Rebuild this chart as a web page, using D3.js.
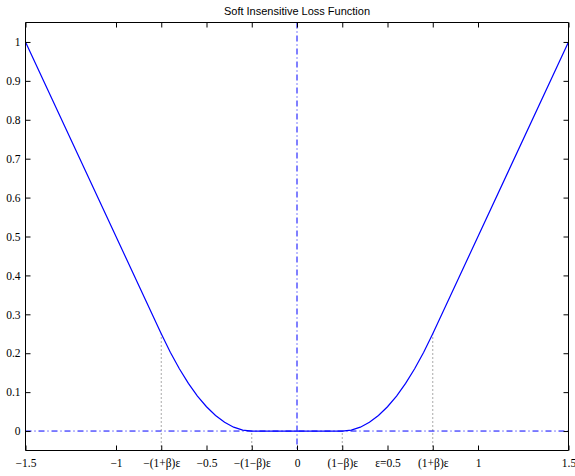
<!DOCTYPE html>
<html><head><meta charset="utf-8">
<script src="https://cdn.jsdelivr.net/npm/d3@7"></script>
<style>body{margin:0;background:#fff}svg{display:block}</style>
</head><body>
<script>
const title = "Soft Insensitive Loss Function";
const lossX = [-1.5, -0.75, -0.7, -0.65, -0.6, -0.55, -0.5, -0.45, -0.4, -0.35, -0.3, -0.25,
               0.25, 0.3, 0.35, 0.4, 0.45, 0.5, 0.55, 0.6, 0.65, 0.7, 0.75, 1.5];
const lossY = [1, 0.25, 0.2025, 0.16, 0.1225, 0.09, 0.0625, 0.04, 0.0225, 0.01, 0.0025, 0,
               0, 0.0025, 0.01, 0.0225, 0.04, 0.0625, 0.09, 0.1225, 0.16, 0.2025, 0.25, 1];
const xTickValues = [-1.5, -1, -0.75, -0.5, -0.25, 0, 0.25, 0.5, 0.75, 1, 1.5];
const xTickLabels = ["\u22121.5", "\u22121", "\u2212(1+\u03b2)\u03b5", "\u22120.5", "\u2212(1\u2212\u03b2)\u03b5", "0",
                     "(1\u2212\u03b2)\u03b5", "\u03b5=0.5", "(1+\u03b2)\u03b5", "1", "1.5"];
const yTickValues = [0, 0.1, 0.2, 0.3, 0.4, 0.5, 0.6, 0.7, 0.8, 0.9, 1];
const yTickLabels = ["0", "0.1", "0.2", "0.3", "0.4", "0.5", "0.6", "0.7", "0.8", "0.9", "1"];
const guideX = [-0.75, -0.25, 0.25, 0.75];
const guideTop = [0.25, 0, 0, 0.25];

(function () {
const W = 575, H = 476;
const m = {left: 25.5, right: 6.5, top: 22.5, bottom: 25.5};
const svg = d3.select("body").append("svg").attr("width", W).attr("height", H);
const x = d3.scaleLinear().domain([-1.5, 1.5]).range([m.left, W - m.right]);
const y = d3.scaleLinear().domain([-0.05, 1.05]).range([H - m.bottom, m.top]);

guideX.forEach((gx, i) => {
  svg.append("line").attr("x1", x(gx)).attr("x2", x(gx))
    .attr("y1", y(-0.05)).attr("y2", y(guideTop[i]))
    .attr("stroke", "#555").attr("stroke-width", 1).attr("stroke-dasharray", "1,3");
});
svg.append("line").attr("x1", x(-1.5)).attr("x2", x(1.5)).attr("y1", y(0)).attr("y2", y(0))
  .attr("stroke", "#0000ff").attr("stroke-width", 1).attr("stroke-dasharray", "6,3,1,3");
svg.append("line").attr("x1", x(0)).attr("x2", x(0)).attr("y1", y(1.05)).attr("y2", y(-0.05))
  .attr("stroke", "#0000ff").attr("stroke-width", 1).attr("stroke-dasharray", "6,3,1,3");

const pts = lossX.map((v, i) => [v, lossY[i]]);
svg.append("path").datum(pts)
  .attr("d", d3.line().x(d => x(d[0])).y(d => y(d[1])))
  .attr("fill", "none").attr("stroke", "#0000ff").attr("stroke-width", 1.2);

const fontT = "'Liberation Serif', 'Times New Roman', serif";
const gB = svg.append("g").attr("transform", `translate(0,${y(-0.05)})`)
  .call(d3.axisBottom(x).tickValues(xTickValues).tickSize(-5).tickPadding(8)
    .tickFormat((d, i) => xTickLabels[i]));
const gT = svg.append("g").attr("transform", `translate(0,${y(1.05)})`)
  .call(d3.axisTop(x).tickValues(xTickValues).tickSize(-5).tickFormat(""));
const gL = svg.append("g").attr("transform", `translate(${x(-1.5)},0)`)
  .call(d3.axisLeft(y).tickValues(yTickValues).tickSize(-5).tickPadding(5)
    .tickFormat((d, i) => yTickLabels[i]));
const gR = svg.append("g").attr("transform", `translate(${x(1.5)},0)`)
  .call(d3.axisRight(y).tickValues(yTickValues).tickSize(-5).tickFormat(""));
[gB, gT, gL, gR].forEach(g => {
  g.select(".domain").attr("stroke", "#000").attr("stroke-width", 1);
  g.selectAll(".tick line").attr("stroke", "#000");
  g.selectAll("text").attr("font-family", fontT).attr("font-size", 11.5).attr("fill", "#000");
});
[gB, gT].forEach(g => g.select(".domain").attr("d", `M${x(-1.5)},0H${x(1.5)}`));
[gL, gR].forEach(g => g.select(".domain").attr("d", `M0,${y(-0.05)}V${y(1.05)}`));

svg.append("text").attr("x", x(0)).attr("y", 15).attr("text-anchor", "middle")
  .attr("font-family", "'Liberation Sans', Arial, sans-serif").attr("font-size", 11)
  .text(title);
})();
</script>
</body></html>
